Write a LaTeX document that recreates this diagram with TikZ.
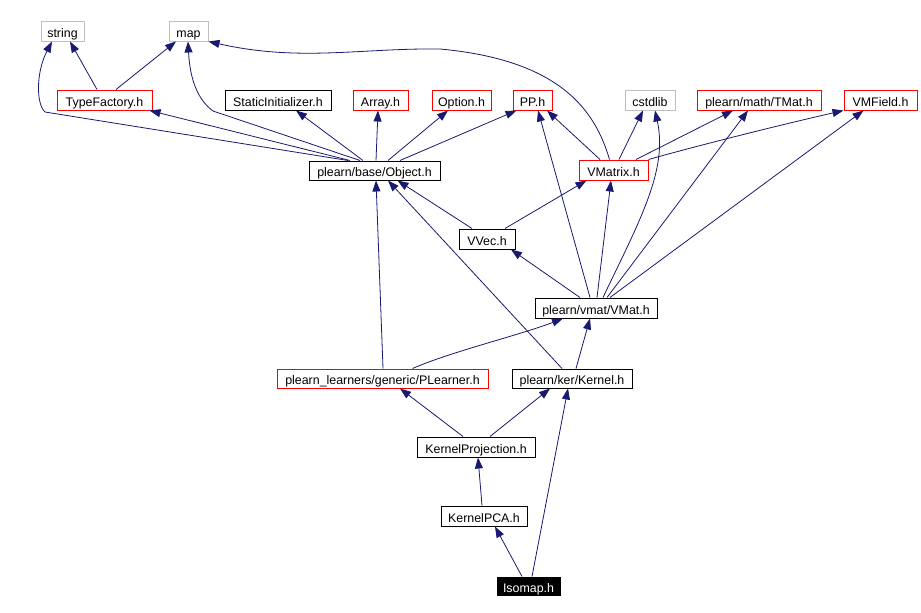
\documentclass[tikz,border=0pt]{standalone}
\usepackage{fontspec}
\setmainfont{Liberation Sans}
\usepackage{xcolor}
\usepackage{tikz}
\usetikzlibrary{arrows.meta,calc}
\definecolor{edgeblue}{HTML}{191970}
\definecolor{sysgray}{HTML}{BFBFBF}
\definecolor{docred}{HTML}{FF0000}

\begin{document}
\begin{tikzpicture}[x=1pt,y=-1pt,
  hdr/.style={draw=black,line width=1pt,minimum height=20pt,inner sep=0pt,
    text height=12.5pt,text depth=0pt,font=\fontsize{12.4}{14}\selectfont},
  redhdr/.style={hdr,draw=docred},
  syshdr/.style={hdr,draw=sysgray},
  roothdr/.style={hdr,fill=black,text=white,minimum height=18pt},
  dep/.style={edgeblue,line width=0.8pt,-{Triangle[length=11pt,width=8pt]}}]
  \useasboundingbox (0,0) rectangle (921,613);
  % top row: system headers
  \node[syshdr,minimum width=43pt] (string) at (62.5,31) {string};
  \node[syshdr,minimum width=39pt] (map) at (188.5,31) {map};
  % second row
  \node[redhdr,minimum width=95pt] (typefac) at (104.5,100) {TypeFactory.h};
  \node[hdr,minimum width=106pt] (statinit) at (278,100) {StaticInitializer.h};
  \node[redhdr,minimum width=55pt] (array) at (380.5,100) {Array.h};
  \node[redhdr,minimum width=59pt] (option) at (461.5,100) {Option.h};
  \node[redhdr,minimum width=39pt] (pp) at (532.5,100) {PP.h};
  \node[syshdr,minimum width=50pt] (cstdlib) at (650,100) {cstdlib};
  \node[redhdr,minimum width=124pt] (tmat) at (759,100) {plearn/math/TMat.h};
  \node[redhdr,minimum width=73pt] (vmfield) at (880.5,100) {VMField.h};
  % middle
  \node[hdr,minimum width=131pt,minimum height=19pt] (object) at (374.5,170.5) {plearn/base/Object.h};
  \node[redhdr,minimum width=69pt] (vmatrix) at (613.5,170) {VMatrix.h};
  \node[hdr,minimum width=56pt] (vvec) at (487,239) {VVec.h};
  \node[hdr,minimum width=122pt] (vmat) at (596,308) {plearn/vmat/VMat.h};
  \node[redhdr,minimum width=211pt,minimum height=19pt] (plearner) at (382.5,378.5) {plearn\_learners/generic/PLearner.h};
  \node[hdr,minimum width=120pt,minimum height=19pt] (kernel) at (572,378.5) {plearn/ker/Kernel.h};
  % bottom
  \node[hdr,minimum width=118pt] (kproj) at (476,447) {KernelProjection.h};
  \node[hdr,minimum width=86pt] (kpca) at (484,516) {KernelPCA.h};
  \node[roothdr,minimum width=63pt] (isomap) at (528.5,586) {Isomap.h};

  % straight include edges: source/shift/target/shift
  \foreach \s/\sx/\t/\tx in {typefac/-7.5/string/7.5, typefac/11.5/map/-12.5,
      object/-24.5/typefac/45, object/-11.5/statinit/18, object/1.5/array/-2.5,
      object/13.5/option/-13.5, object/25.5/pp/-16,
      vmatrix/-13.5/pp/14.5, vmatrix/5.5/cstdlib/-7, vmatrix/22.5/tmat/-26,
      vvec/-15/object/23, vvec/18/vmatrix/-27,
      vmat/-16/vvec/24, vmat/-6/pp/5.5, vmat/1/vmatrix/-2.5,
      vmat/11/tmat/-11, vmat/14/vmfield/-17,
      plearner/0.5/object/1.5, kernel/-10/object/13.5, kernel/4/vmat/-6,
      kproj/-13/plearner/17.5, kproj/14/kernel/-22,
      kpca/-2/kproj/2, isomap/-6.5/kpca/11, isomap/3.5/kernel/-4}{
    \draw[dep] ([xshift=\sx pt]\s.north) -- ([xshift=\tx pt]\t.south);
  }
  % curved edges
  \draw[dep] ([xshift=-26.5pt]object.north) -- (45,112)
    .. controls (36,104) and (36,72) .. ([xshift=-10.5pt]string.south);
  \draw[dep] ([xshift=-14.5pt]object.north) -- (213,111)
    .. controls (198,100) and (190,80) .. ([xshift=-0.5pt]map.south);
  \draw[dep] ([xshift=-4pt]vmatrix.north) .. controls (595,110) and (560,60) .. (440,49)
    .. controls (360,48) and (300,62) .. (map.south east);
  \draw[dep] (vmatrix.north east) .. controls (700,145) and (780,125) .. (vmfield.south west);
  \draw[dep] ([xshift=7pt]vmat.north) .. controls (640,220) and (668,170) .. ([xshift=5pt]cstdlib.south);
  \draw[dep] ([xshift=30pt]plearner.north) .. controls (450,352) and (520,335) .. ([xshift=-33pt]vmat.south);
\end{tikzpicture}
\end{document}
